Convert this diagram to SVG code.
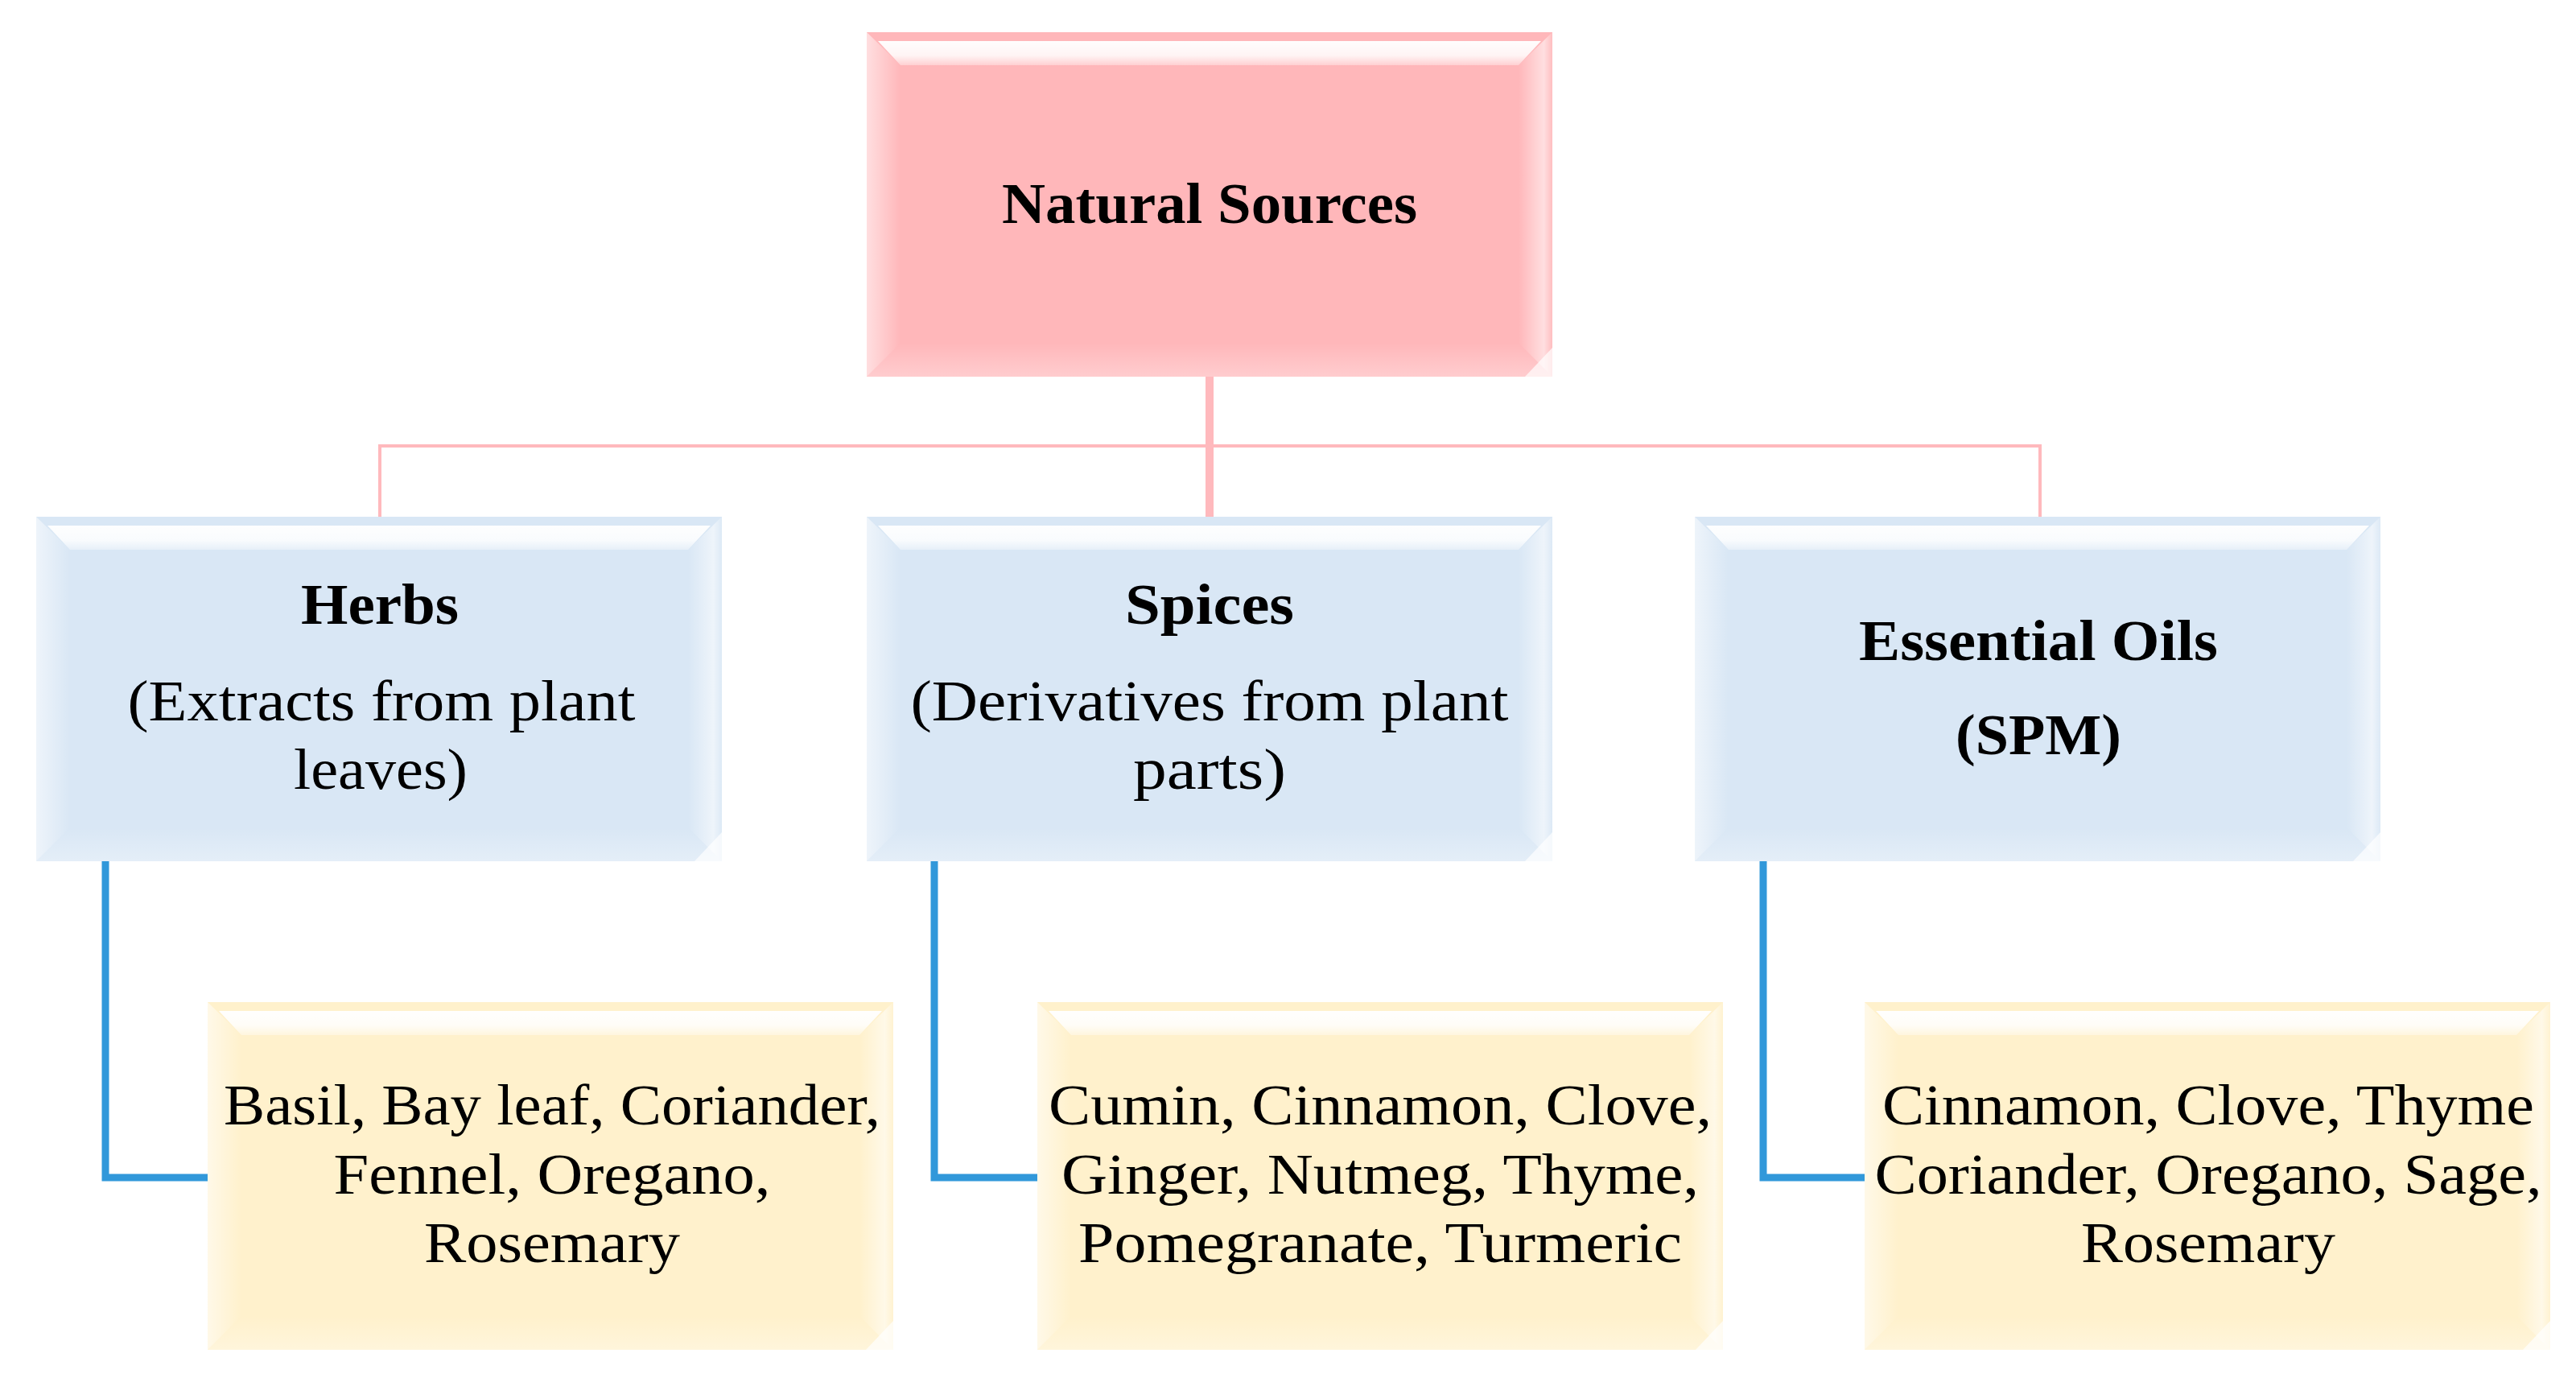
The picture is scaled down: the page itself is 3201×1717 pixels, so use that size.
<svg xmlns="http://www.w3.org/2000/svg" xmlns:xlink="http://www.w3.org/1999/xlink" width="3201" height="1717" viewBox="0 0 3201 1717">
<style>
  .t { font-family: "Liberation Serif", "Times New Roman", serif; font-size: 72px; fill: #000; text-anchor: middle; }
  .b { font-weight: bold; }
  .pink { fill: #FFB7BA; }
  .blue { fill: #D9E7F5; }
  .yellow { fill: #FFF1CC; }
  .cp { stroke: #FFB9BD; fill: none; }
  .cb { stroke: #3198DA; fill: none; stroke-width: 9; }
</style>
<defs>
  <linearGradient id="gTop" x1="0" y1="0" x2="0" y2="1">
    <stop offset="0" stop-color="#fff" stop-opacity="0.97"/>
    <stop offset="0.6" stop-color="#fff" stop-opacity="0.85"/>
    <stop offset="1" stop-color="#fff" stop-opacity="0.35"/>
  </linearGradient>
  <linearGradient id="gLeft" x1="0" y1="0" x2="1" y2="0">
    <stop offset="0" stop-color="#fff" stop-opacity="0.55"/>
    <stop offset="1" stop-color="#fff" stop-opacity="0"/>
  </linearGradient>
  <linearGradient id="gRight" x1="0" y1="0" x2="1" y2="0">
    <stop offset="0" stop-color="#fff" stop-opacity="0"/>
    <stop offset="0.75" stop-color="#fff" stop-opacity="0.55"/>
    <stop offset="1" stop-color="#fff" stop-opacity="0.1"/>
  </linearGradient>
  <linearGradient id="gBot" x1="0" y1="0" x2="0" y2="1">
    <stop offset="0" stop-color="#fff" stop-opacity="0"/>
    <stop offset="1" stop-color="#fff" stop-opacity="0.3"/>
  </linearGradient>
  <g id="bevelA">
    <polygon points="0,0 42,41 42,386 0,428" fill="url(#gLeft)"/>
    <polygon points="852,0 810,41 810,386 852,428" fill="url(#gRight)"/>
    <polygon points="0,428 42,386 810,386 852,428" fill="url(#gBot)"/>
    <polygon points="14,11 838,11 810,41 42,41" fill="url(#gTop)"/>
    <polygon points="852,392 852,428 818,428" fill="#fff" fill-opacity="0.7"/>
  </g>
  <g id="bevelB">
    <polygon points="0,0 42,41 42,390 0,432" fill="url(#gLeft)"/>
    <polygon points="852,0 810,41 810,390 852,432" fill="url(#gRight)"/>
    <polygon points="0,432 42,390 810,390 852,432" fill="url(#gBot)"/>
    <polygon points="14,11 838,11 810,41 42,41" fill="url(#gTop)"/>
    <polygon points="852,396 852,432 818,432" fill="#fff" fill-opacity="0.7"/>
  </g>
</defs>
<rect width="3201" height="1717" fill="#fff"/>

<g id="connectors">
  <line class="cp" x1="1503" y1="465" x2="1503" y2="644" stroke-width="10"/>
  <polyline class="cp" points="472,644 472,554 2535,554 2535,644" stroke-width="4"/>
  <polyline class="cb" points="131,1068 131,1463 259,1463"/>
  <polyline class="cb" points="1161,1068 1161,1463 1292,1463"/>
  <polyline class="cb" points="2191,1068 2191,1463 2319,1463"/>
</g>

<g id="natural-sources">
  <rect class="pink" x="1077" y="40" width="852" height="428"/>
  <use xlink:href="#bevelA" x="1077" y="40"/>
  <text class="t b" x="1503" y="277" textLength="516" lengthAdjust="spacingAndGlyphs">Natural Sources</text>
</g>

<g id="herbs">
  <rect class="blue" x="45" y="642" width="852" height="428"/>
  <use xlink:href="#bevelA" x="45" y="642"/>
  <text class="t b" x="472" y="775" textLength="196" lengthAdjust="spacingAndGlyphs">Herbs</text>
  <text class="t" x="474" y="895" textLength="631" lengthAdjust="spacingAndGlyphs">(Extracts from plant</text>
  <text class="t" x="473" y="980" textLength="216" lengthAdjust="spacingAndGlyphs">leaves)</text>
</g>

<g id="spices">
  <rect class="blue" x="1077" y="642" width="852" height="428"/>
  <use xlink:href="#bevelA" x="1077" y="642"/>
  <text class="t b" x="1503" y="775" textLength="210" lengthAdjust="spacingAndGlyphs">Spices</text>
  <text class="t" x="1503" y="895" textLength="743" lengthAdjust="spacingAndGlyphs">(Derivatives from plant</text>
  <text class="t" x="1503" y="980" textLength="190" lengthAdjust="spacingAndGlyphs">parts)</text>
</g>

<g id="essential-oils">
  <rect class="blue" x="2106" y="642" width="852" height="428"/>
  <use xlink:href="#bevelA" x="2106" y="642"/>
  <text class="t b" x="2533" y="820" textLength="446" lengthAdjust="spacingAndGlyphs">Essential Oils</text>
  <text class="t b" x="2533" y="937" textLength="206" lengthAdjust="spacingAndGlyphs">(SPM)</text>
</g>

<g id="herbs-list">
  <rect class="yellow" x="258" y="1245" width="852" height="432"/>
  <use xlink:href="#bevelB" x="258" y="1245"/>
  <text class="t" x="686" y="1397" textLength="816" lengthAdjust="spacingAndGlyphs">Basil, Bay leaf, Coriander,</text>
  <text class="t" x="686" y="1483" textLength="543" lengthAdjust="spacingAndGlyphs">Fennel, Oregano,</text>
  <text class="t" x="686" y="1568" textLength="318" lengthAdjust="spacingAndGlyphs">Rosemary</text>
</g>

<g id="spices-list">
  <rect class="yellow" x="1289" y="1245" width="852" height="432"/>
  <use xlink:href="#bevelB" x="1289" y="1245"/>
  <text class="t" x="1715" y="1397" textLength="824" lengthAdjust="spacingAndGlyphs">Cumin, Cinnamon, Clove,</text>
  <text class="t" x="1715" y="1483" textLength="792" lengthAdjust="spacingAndGlyphs">Ginger, Nutmeg, Thyme,</text>
  <text class="t" x="1715" y="1568" textLength="750" lengthAdjust="spacingAndGlyphs">Pomegranate, Turmeric</text>
</g>

<g id="oils-list">
  <rect class="yellow" x="2317" y="1245" width="852" height="432"/>
  <use xlink:href="#bevelB" x="2317" y="1245"/>
  <text class="t" x="2744" y="1397" textLength="810" lengthAdjust="spacingAndGlyphs">Cinnamon, Clove, Thyme</text>
  <text class="t" x="2744" y="1483" textLength="829" lengthAdjust="spacingAndGlyphs">Coriander, Oregano, Sage,</text>
  <text class="t" x="2744" y="1568" textLength="316" lengthAdjust="spacingAndGlyphs">Rosemary</text>
</g>
</svg>
